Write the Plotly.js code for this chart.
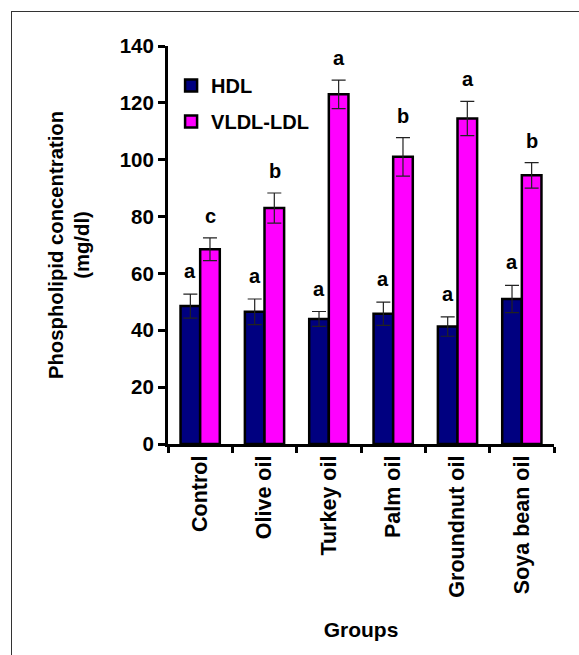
<!DOCTYPE html>
<html>
<head>
<meta charset="utf-8">
<script src="https://cdn.plot.ly/plotly-3.0.1.min.js"></script>
<style>
  html, body { margin: 0; padding: 0; background: #fff; }
  #chart { width: 579px; height: 655px; position: absolute; left: 0; top: 0; }
  #frame { position: absolute; left: 11px; top: 11px; width: 620px; height: 700px;
           border-top: 1.5px solid #333; border-left: 1.5px solid #333; pointer-events: none; }
</style>
</head>
<body>
<div id="chart"></div>
<div id="frame"></div>
<script>
const groups = ['Control', 'Olive oil', 'Turkey oil', 'Palm oil', 'Groundnut oil', 'Soya bean oil'];
const hdl = [48.5, 46.5, 44.0, 45.8, 41.3, 51.0];
const hdlErr = [4.2, 4.5, 2.6, 4.1, 3.4, 4.8];
const vldl = [68.5, 83.0, 123.0, 101.0, 114.5, 94.5];
const vldlErr = [4.0, 5.3, 5.0, 6.8, 6.0, 4.5];
const hdlLetters = ['a', 'a', 'a', 'a', 'a', 'a'];
const vldlLetters = ['c', 'b', 'a', 'b', 'a', 'b'];

const FONT = 'Liberation Sans, Arial, sans-serif';
const bold = (size) => ({family: FONT, size: size, color: '#000', weight: 'bold'});

const traces = [
  {
    type: 'bar', name: 'HDL', x: groups, y: hdl, legendgroup: 'g1',
    marker: {color: '#000080', line: {color: '#000', width: 2.5}},
    error_y: {type: 'data', array: hdlErr, visible: true, color: '#222', thickness: 1.2, width: 7}
  },
  {
    type: 'bar', name: 'VLDL-LDL', x: groups, y: vldl, legendgroup: 'g2',
    marker: {color: '#FF00FF', line: {color: '#000', width: 2.5}},
    error_y: {type: 'data', array: vldlErr, visible: true, color: '#222', thickness: 1.2, width: 7}
  }
];

const annotations = [];
groups.forEach((g, i) => {
  annotations.push({x: g, y: hdl[i] + hdlErr[i], xref: 'x', yref: 'y', text: hdlLetters[i],
    showarrow: false, xshift: -10, yshift: 10, yanchor: 'bottom', font: bold(20)});
  annotations.push({x: g, y: vldl[i] + vldlErr[i], xref: 'x', yref: 'y', text: vldlLetters[i],
    showarrow: false, xshift: 10, yshift: 9, yanchor: 'bottom', font: bold(20)});
});

const layout = {
  width: 579, height: 655,
  margin: {l: 168, r: 25, t: 46, b: 211},
  paper_bgcolor: 'rgba(0,0,0,0)', plot_bgcolor: '#fff',
  font: bold(20),
  barmode: 'group', bargap: 0.39, bargroupgap: 0,
  showlegend: true,
  legend: {x: 0.008, y: 0.95, xanchor: 'left', yanchor: 'top', bgcolor: 'rgba(0,0,0,0)',
           font: bold(20), traceorder: 'grouped', tracegroupgap: 7, itemwidth: 30},
  xaxis: {
    type: 'category', range: [-0.5, 5.5], showline: true, linecolor: '#000', linewidth: 3,
    ticks: 'outside', tickson: 'boundaries', ticklen: 6, tickwidth: 3, tickcolor: '#000',
    tickangle: -90, tickfont: bold(21.5), showgrid: false, zeroline: false,
    title: {text: 'Groups', font: bold(21), standoff: 26}
  },
  yaxis: {
    range: [0, 140], dtick: 20, tick0: 0, showline: true, linecolor: '#000', linewidth: 3,
    ticks: 'outside', ticklen: 7, tickwidth: 3, tickcolor: '#000', tickfont: bold(20.5),
    showgrid: false, zeroline: false,
    title: {text: 'Phospholipid concentration<br>(mg/dl)', font: bold(20.3), standoff: 25}
  },
  annotations: annotations
};

Plotly.newPlot('chart', traces, layout, {displayModeBar: false, staticPlot: true});
</script>
</body>
</html>
